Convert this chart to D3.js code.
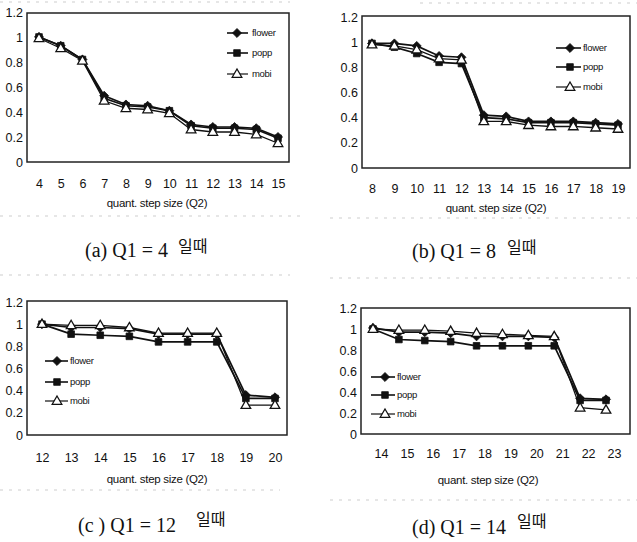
<!DOCTYPE html>
<html><head><meta charset="utf-8">
<script src="https://cdn.jsdelivr.net/npm/d3@7/dist/d3.min.js"></script>
<style>
html,body{margin:0;padding:0;background:#fff;}
svg{display:block;}
</style></head>
<body>
<svg id="chart" width="637" height="542"></svg>
<script>
// ---------------- DATA ----------------
const seriesNames = ["flower", "popp", "mobi"];
const yTickValues = [0, 0.2, 0.4, 0.6, 0.8, 1, 1.2];
const yTickLabels = ["0", "0.2", "0.4", "0.6", "0.8", "1", "1.2"];
const xTitle = "quant. step size (Q2)";

const q2_a = [4, 5, 6, 7, 8, 9, 10, 11, 12, 13, 14, 15];
const flower_a = [1.00, 0.93, 0.82, 0.53, 0.46, 0.45, 0.41, 0.30, 0.28, 0.28, 0.27, 0.20];
const popp_a   = [1.00, 0.93, 0.82, 0.51, 0.45, 0.44, 0.41, 0.29, 0.27, 0.27, 0.26, 0.19];
const mobi_a   = [0.99, 0.91, 0.81, 0.49, 0.43, 0.42, 0.39, 0.26, 0.24, 0.24, 0.22, 0.15];

const q2_b = [8, 9, 10, 11, 12, 13, 14, 15, 16, 17, 18, 19];
const flower_b = [0.99, 0.99, 0.97, 0.89, 0.88, 0.42, 0.41, 0.37, 0.37, 0.37, 0.36, 0.35];
const popp_b   = [0.99, 0.96, 0.91, 0.84, 0.83, 0.40, 0.39, 0.36, 0.36, 0.36, 0.35, 0.34];
const mobi_b   = [0.98, 0.97, 0.94, 0.87, 0.86, 0.37, 0.37, 0.34, 0.33, 0.33, 0.32, 0.31];

const q2_c = [12, 13, 14, 15, 16, 17, 18, 19, 20];
const flower_c = [1.00, 0.97, 0.97, 0.96, 0.91, 0.91, 0.91, 0.36, 0.34];
const popp_c   = [1.00, 0.91, 0.90, 0.89, 0.84, 0.84, 0.84, 0.33, 0.33];
const mobi_c   = [1.00, 0.99, 0.99, 0.97, 0.92, 0.92, 0.92, 0.27, 0.27];

const q2_d = [14, 15, 16, 17, 18, 19, 20, 21, 22, 23];
const flower_d = [1.01, 0.97, 0.97, 0.96, 0.93, 0.93, 0.93, 0.92, 0.34, 0.33];
const popp_d   = [1.00, 0.90, 0.89, 0.88, 0.84, 0.84, 0.84, 0.84, 0.32, 0.32];
const mobi_d   = [1.00, 0.99, 0.99, 0.98, 0.96, 0.95, 0.94, 0.93, 0.25, 0.23];

const captionLetters = ["(a)", "(b)", "(c )", "(d)"];
const q1Values = [4, 8, 12, 14];
const captionSuffix = "일때";

// ---------------- LAYOUT ----------------
const panels = [
  { x: q2_a, s: [flower_a, popp_a, mobi_a],
    frame: [27, 13, 289, 162], xr: [39, 278], y0: 162, y12: 12,
    xLabY: 188, xLabDx: 0, titleX: 157, titleY: 207,
    leg: { x1: 227, x2: 248, mx: 237, tx: 252, ys: [33, 53, 74] },
    cap: { x: 85, y: 257, kx: 178, ky: 252 } },
  { x: q2_b, s: [flower_b, popp_b, mobi_b],
    frame: [362, 16, 630, 168], xr: [372, 618], y0: 168, y12: 17,
    xLabY: 193, xLabDx: 0, titleX: 496, titleY: 212,
    leg: { x1: 556, x2: 581, mx: 570, tx: 583, ys: [48, 67, 87] },
    cap: { x: 412, y: 258, kx: 507, ky: 253 } },
  { x: q2_c, s: [flower_c, popp_c, mobi_c],
    frame: [27, 301, 287, 435], xr: [42, 275], y0: 435, y12: 302,
    xLabY: 462, xLabDx: 0, titleX: 157, titleY: 483,
    leg: { x1: 45, x2: 68, mx: 57, tx: 70, ys: [361, 382, 401] },
    cap: { x: 78, y: 532, kx: 196, ky: 525 } },
  { x: q2_d, s: [flower_d, popp_d, mobi_d],
    frame: [361, 308, 630, 434], xr: [373, 606], y0: 434, y12: 308,
    xLabY: 458, xLabDx: 8, titleX: 488, titleY: 484,
    leg: { x1: 371, x2: 395, mx: 385, tx: 397, ys: [377, 395, 414] },
    cap: { x: 412, y: 534, kx: 517, ky: 527 } }
];

const svg = d3.select("#chart");
const axisFont = "'Liberation Sans', Arial, sans-serif";

function marker(g, type, cx, cy) {
  if (type === 0) {
    g.append("path").attr("d", d3.symbol(d3.symbolDiamond2, 52)())
      .attr("transform", `translate(${cx},${cy})`).attr("fill", "#111").attr("stroke", "#111").attr("stroke-width", 0.8);
  } else if (type === 1) {
    g.append("path").attr("d", d3.symbol(d3.symbolSquare, 44)())
      .attr("transform", `translate(${cx},${cy})`).attr("fill", "#111").attr("stroke", "#111").attr("stroke-width", 0.8);
  } else {
    g.append("path").attr("d", d3.symbol(d3.symbolTriangle, 40)())
      .attr("transform", `translate(${cx},${cy + 0.5})`).attr("fill", "#fff").attr("stroke", "#111").attr("stroke-width", 1.3);
  }
}

// faint scan lines around panels
const scanLines = [[0, 2, 290, 2], [0, 216, 300, 216], [420, 3, 637, 3], [330, 218, 637, 218],
                   [0, 275, 290, 275], [0, 490, 280, 490], [330, 278, 637, 278], [330, 500, 637, 500]];
svg.append("g").selectAll("line").data(scanLines).join("line")
  .attr("x1", d => d[0]).attr("y1", d => d[1]).attr("x2", d => d[2]).attr("y2", d => d[3])
  .attr("stroke", "#999").attr("stroke-width", 0.8).attr("stroke-dasharray", "3,6").attr("opacity", 0.6);

panels.forEach((p, pi) => {
  const g = svg.append("g");
  const x = d3.scalePoint().domain(p.x).range(p.xr);
  const y = d3.scaleLinear().domain([0, 1.2]).range([p.y0, p.y12]);
  const [fx1, fy1, fx2, fy2] = p.frame;

  // frame
  g.append("rect").attr("x", fx1).attr("y", fy1).attr("width", fx2 - fx1).attr("height", fy2 - fy1)
    .attr("fill", "none").attr("stroke", "#222").attr("stroke-width", 1.5);

  // y axis labels
  const yAxis = d3.axisLeft(y).tickValues(yTickValues)
    .tickFormat((d, i) => yTickLabels[i]).tickSize(0).tickPadding(4);
  const ya = g.append("g").attr("transform", `translate(${fx1},0)`).call(yAxis);
  ya.select(".domain").remove();
  ya.selectAll("text").attr("font-family", axisFont).attr("font-size", 12.5).attr("fill", "#111");

  // x axis labels
  const xAxis = d3.axisBottom(x).tickSize(0).tickPadding(0);
  const xa = g.append("g").attr("transform", `translate(0,${p.xLabY})`).call(xAxis);
  xa.select(".domain").remove();
  xa.selectAll("text").attr("dy", 0).attr("dx", p.xLabDx)
    .attr("font-family", axisFont).attr("font-size", 12.5).attr("fill", "#111");

  // x title
  g.append("text").attr("x", p.titleX).attr("y", p.titleY).attr("text-anchor", "middle")
    .attr("font-family", axisFont).attr("font-size", 11.5).attr("letter-spacing", -0.3)
    .attr("fill", "#111").text(xTitle);

  // lines
  const line = d3.line().x((d, i) => x(p.x[i])).y(d => y(d));
  p.s.forEach((vals, si) => {
    g.append("path").datum(vals).attr("d", line).attr("fill", "none")
      .attr("stroke", "#111").attr("stroke-width", si === 2 ? 1.3 : 1.7);
  });
  // markers
  p.s.forEach((vals, si) => {
    vals.forEach((v, i) => marker(g, si, x(p.x[i]), y(v)));
  });

  // legend
  seriesNames.forEach((name, si) => {
    const ly = p.leg.ys[si];
    g.append("line").attr("x1", p.leg.x1).attr("x2", p.leg.x2).attr("y1", ly).attr("y2", ly)
      .attr("stroke", "#111").attr("stroke-width", si === 2 ? 1.2 : 1.6);
    marker(g, si, p.leg.mx, ly);
    g.append("text").attr("x", p.leg.tx).attr("y", ly).attr("dy", "0.35em")
      .attr("font-family", axisFont).attr("font-size", 9.5).attr("letter-spacing", -0.3)
      .attr("fill", "#111").text(name);
  });

  // caption
  g.append("text").attr("x", p.cap.x).attr("y", p.cap.y)
    .attr("font-family", "'Liberation Serif', 'Times New Roman', serif").attr("font-size", 20)
    .attr("fill", "#111").text(`${captionLetters[pi]} Q1 = ${q1Values[pi]}`);
  g.append("text").attr("x", p.cap.kx).attr("y", p.cap.ky)
    .attr("font-family", "'Noto Sans CJK KR', sans-serif").attr("font-size", 16)
    .attr("fill", "#111").text(captionSuffix);
});
</script>
</body></html>
